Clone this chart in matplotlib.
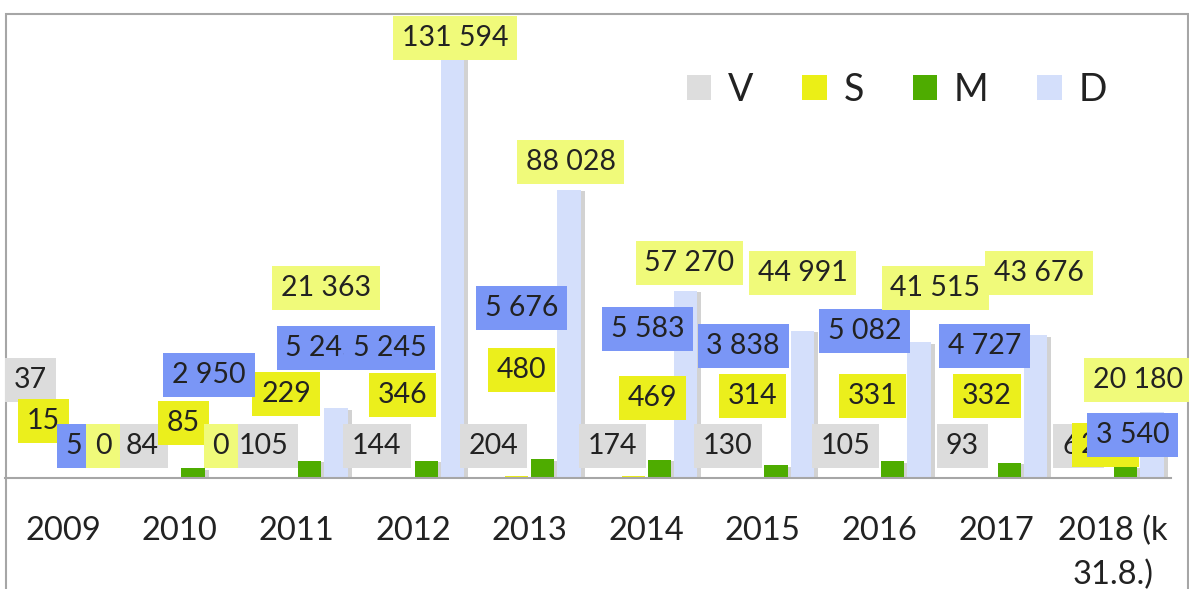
import matplotlib
matplotlib.use("Agg")
import matplotlib.pyplot as plt
import matplotlib.patheffects as pe
from matplotlib.patches import Patch, Rectangle
import numpy as np

# ---- data ----
categories = ["2009", "2010", "2011", "2012", "2013", "2014", "2015", "2016", "2017", "2018 (k\n31.8.)"]
series_names = ["V", "S", "M", "D"]
V = [37, 84, 105, 144, 204, 174, 130, 105, 93, 62]
S = [15, 85, 229, 346, 480, 469, 314, 331, 332, 253]
M = [5, 2950, 5245, 5245, 5676, 5583, 3838, 5082, 4727, 3540]
D = [0, 0, 21363, 131594, 88028, 57270, 44991, 41515, 43676, 20180]

# ---- styles ----
bar_colors = ["#DDDDDD", "#EBEF16", "#4EAC00", "#D4DFFB"]
label_colors = ["#DCDCDC", "#EBEF1C", "#7A96F6", "#F0FA7A"]

# label placement (manual, as in the original): x offset from category, y position in data units
label_dx = {
    "V": [-0.28, -0.32, -0.28, -0.31, -0.31, -0.29, -0.30, -0.29, -0.29, -0.29],
    "S": [-0.17, 0.03, -0.09, -0.09, -0.07, 0.05, -0.09, -0.06, -0.08, -0.06],
    "M": [0.09, 0.25, 0.22, -0.20, -0.07, 0.01, -0.17, -0.13, -0.10, 0.17],
    "D": [0.34, 0.35, 0.25, 0.36, 0.35, 0.37, 0.34, 0.48, 0.37, 0.22],
}
label_y = {
    "V": [29960, 9780, 9780, 9780, 9780, 9780, 9780, 9780, 9780, 9780],
    "S": [17400, 16800, 25700, 25400, 33000, 24500, 25100, 25100, 25100, 10100],
    "M": [9780, 31500, 39700, 39700, 52000, 45500, 40400, 44900, 40400, 13150],
    "D": [9780, 9780, 58100, 134500, 96600, 65700, 62700, 58100, 62700, 29960],
}

plt.rcParams["font.family"] = ["Lato", "DejaVu Sans"]
W, H = 1189, 589
fig = plt.figure(figsize=(W / 100, H / 100), dpi=100)
ax = fig.add_axes([5 / W, (H - 478) / H, (1171 - 5) / W, (478 - 20) / H])

values = [V, S, M, D]
x = np.arange(len(categories))
slot = 0.225
bw = 0.2
shadow = [pe.SimplePatchShadow(offset=(3, -1), shadow_rgbFace="#7f7f7f", alpha=0.35), pe.Normal()]
for k, (name, vals) in enumerate(zip(series_names, values)):
    bars = ax.bar(x + (k - 1.5) * slot, vals, width=bw, color=bar_colors[k], zorder=2, label=name)
    for b in bars:
        b.set_path_effects(shadow)

def fmt(v):
    return f"{v:,}".replace(",", " ")

z = 5
for k, (name, vals) in enumerate(zip(series_names, values)):
    for i, v in enumerate(vals):
        ax.text(i + label_dx[name][i], label_y[name][i], fmt(v), ha="center", va="center",
                fontsize=20.5, color="#222222", zorder=z,
                bbox=dict(boxstyle="square,pad=0.31", fc=label_colors[k], ec="none"))
        z += 0.01

ax.set_xlim(-0.5, len(categories) - 0.5)
ax.set_ylim(0, 140000)
for s in ["left", "right", "top"]:
    ax.spines[s].set_visible(False)
ax.spines["bottom"].set_color("#A6A6A6")
ax.spines["bottom"].set_linewidth(1.5)
ax.set_yticks([])
ax.set_xticks(x)
ax.set_xticklabels(categories, fontsize=23.5, color="#222222", linespacing=1.55, multialignment="center")
ax.tick_params(axis="x", length=0, pad=27)
ax.patch.set_alpha(0)

handles = [Patch(facecolor=c, edgecolor="none") for c in bar_colors]
fig.legend(handles, series_names, loc="center", bbox_to_anchor=(897 / W, (H - 90) / H),
           ncol=4, frameon=False, fontsize=27, handlelength=0.65, handleheight=0.65,
           handletextpad=0.45, columnspacing=1.3, labelcolor="#222222")

# outer chart frame
fig.add_artist(Rectangle((6 / W, -0.1), (1188 - 6) / W, 0.1 + (H - 14) / H, transform=fig.transFigure,
                         fill=False, ec="#A6A6A6", lw=1.5, zorder=0))

fig.savefig("out.png", dpi=100)
